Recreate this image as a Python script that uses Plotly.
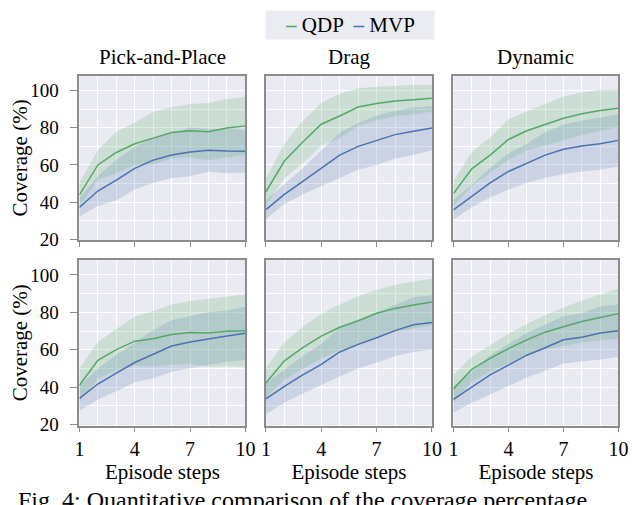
import plotly.graph_objects as go

steps = [1, 2, 3, 4, 5, 6, 7, 8, 9, 10]
tasks = ["Pick-and-Place", "Drag", "Dynamic"]
yticks = [20, 40, 60, 80, 100]
xticks = [1, 4, 7, 10]

# top row: mean and std of coverage (%)
qdp_pick_1 = [43.9, 60.0, 66.7, 71.4, 74.4, 77.4, 78.4, 77.9, 79.8, 81.0]
qdp_pick_1_std = [6.5, 7.9, 11.2, 11.4, 14.0, 13.8, 14.4, 15.4, 15.6, 15.5]
mvp_pick_1 = [37.2, 46.0, 51.8, 58.2, 62.6, 65.3, 67.0, 67.9, 67.5, 67.4]
mvp_pick_1_std = [4.9, 8.0, 10.8, 11.4, 12.2, 12.3, 13.1, 11.4, 11.9, 11.4]

qdp_drag_1 = [45.6, 62.1, 72.3, 81.9, 86.3, 91.1, 93.0, 94.4, 95.1, 95.8]
qdp_drag_1_std = [7.4, 9.3, 11.4, 11.4, 11.9, 10.1, 9.0, 8.2, 7.9, 7.2]
mvp_drag_1 = [36.0, 44.2, 51.2, 58.2, 65.3, 70.0, 73.2, 76.3, 78.1, 79.8]
mvp_drag_1_std = [5.0, 5.2, 7.0, 9.6, 12.0, 12.6, 13.2, 12.8, 12.8, 11.9]

qdp_dyn_1 = [44.6, 57.9, 65.3, 73.7, 78.4, 81.6, 85.1, 87.5, 89.3, 90.5]
qdp_dyn_1_std = [6.6, 9.1, 9.6, 10.9, 10.5, 11.2, 11.7, 11.4, 11.1, 10.2]
mvp_dyn_1 = [35.8, 43.3, 50.4, 56.5, 60.9, 65.3, 68.4, 70.2, 71.4, 73.2]
mvp_dyn_1_std = [5.3, 6.1, 7.9, 9.7, 10.5, 12.3, 13.3, 13.7, 14.0, 14.1]

# bottom row
qdp_pick_2 = [41.0, 54.4, 60.1, 64.6, 65.9, 68.1, 69.2, 69.0, 69.9, 70.2]
qdp_pick_2_std = [9.1, 9.7, 11.0, 13.2, 14.8, 16.1, 16.8, 18.2, 18.7, 19.3]
mvp_pick_2 = [34.0, 41.7, 47.5, 53.2, 57.6, 62.0, 64.1, 65.9, 67.3, 68.8]
mvp_pick_2_std = [6.7, 8.3, 9.7, 10.6, 12.8, 13.7, 14.0, 14.1, 13.7, 14.3]

qdp_drag_2 = [42.2, 54.1, 61.1, 67.3, 72.0, 75.5, 79.5, 82.1, 83.9, 85.5]
qdp_drag_2_std = [7.9, 10.0, 11.2, 12.0, 12.2, 13.1, 12.6, 12.6, 12.6, 12.4]
mvp_drag_2 = [33.8, 40.5, 46.6, 52.2, 58.8, 62.9, 66.4, 70.2, 73.4, 74.6]
mvp_drag_2_std = [8.2, 8.8, 10.0, 10.9, 13.1, 12.8, 13.3, 13.6, 14.6, 14.5]

qdp_dyn_2 = [39.1, 49.6, 55.4, 60.6, 65.3, 69.4, 72.3, 75.1, 77.2, 79.3]
qdp_dyn_2_std = [7.5, 6.6, 7.0, 7.9, 8.4, 9.2, 10.2, 11.2, 12.3, 13.3]
mvp_dyn_2 = [33.5, 40.1, 46.6, 51.8, 57.1, 61.1, 65.3, 66.7, 69.0, 70.2]
mvp_dyn_2_std = [7.0, 8.4, 10.5, 11.3, 11.9, 12.3, 12.6, 12.8, 14.2, 14.0]

panels = [
    (qdp_pick_1, qdp_pick_1_std, mvp_pick_1, mvp_pick_1_std),
    (qdp_drag_1, qdp_drag_1_std, mvp_drag_1, mvp_drag_1_std),
    (qdp_dyn_1, qdp_dyn_1_std, mvp_dyn_1, mvp_dyn_1_std),
    (qdp_pick_2, qdp_pick_2_std, mvp_pick_2, mvp_pick_2_std),
    (qdp_drag_2, qdp_drag_2_std, mvp_drag_2, mvp_drag_2_std),
    (qdp_dyn_2, qdp_dyn_2_std, mvp_dyn_2, mvp_dyn_2_std),
]

green = "#55a868"
blue = "#4c72b0"
green_fill = "rgba(85,168,104,0.2)"
blue_fill = "rgba(76,114,176,0.2)"
serif = "Times New Roman"

W, H = 640, 505
col_px = [(68, 238), (259, 429), (451, 620)]
row_px = [(69, 237), (257, 426)]

fig = go.Figure()

for i, (qdp, qdp_std, mvp, mvp_std) in enumerate(panels):
    n = "" if i == 0 else str(i + 1)
    xa, ya = "x" + n, "y" + n
    for mean, std, fill_c in [(mvp, mvp_std, blue_fill), (qdp, qdp_std, green_fill)]:
        lower = [m - s for m, s in zip(mean, std)]
        upper = [m + s for m, s in zip(mean, std)]
        fig.add_trace(go.Scatter(x=steps, y=lower, mode="lines", line=dict(width=0),
                                 xaxis=xa, yaxis=ya, showlegend=False, hoverinfo="skip"))
        fig.add_trace(go.Scatter(x=steps, y=upper, mode="lines", line=dict(width=0),
                                 fill="tonexty", fillcolor=fill_c,
                                 xaxis=xa, yaxis=ya, showlegend=False, hoverinfo="skip"))
    fig.add_trace(go.Scatter(x=steps, y=mvp, mode="lines", name="MVP",
                             line=dict(color=blue, width=1.5),
                             xaxis=xa, yaxis=ya, showlegend=False))
    fig.add_trace(go.Scatter(x=steps, y=qdp, mode="lines", name="QDP",
                             line=dict(color=green, width=1.5),
                             xaxis=xa, yaxis=ya, showlegend=False))

layout = {}
for i in range(6):
    r, c = divmod(i, 3)
    n = "" if i == 0 else str(i + 1)
    x0, x1 = col_px[c]
    top, bot = row_px[r]
    layout["xaxis" + n] = dict(
        domain=[x0 / W, x1 / W], anchor="y" + n, range=[1, 10],
        tickvals=xticks, showticklabels=(r == 1),
        ticks="outside", ticklen=5, tickcolor="#8c8c8c", tickwidth=1.2,
        showline=True, mirror=True, linecolor="#8c8c8c", linewidth=1.5,
        showgrid=True, gridcolor="white", gridwidth=1,
        minor=dict(tickvals=[2, 3, 5, 6, 8, 9], showgrid=True, gridcolor="white", gridwidth=1),
        zeroline=False, tickfont=dict(family=serif, size=20, color="black"),
        title=dict(text="Episode steps" if r == 1 else "", standoff=0,
                   font=dict(family=serif, size=21, color="black")),
    )
    layout["yaxis" + n] = dict(
        domain=[1 - bot / H, 1 - top / H], anchor="x" + n, range=[19.5, 108],
        tickvals=yticks, showticklabels=(c == 0),
        ticks="outside" if c == 0 else "", ticklen=8, tickcolor="#8c8c8c", tickwidth=1.2,
        ticklabelstandoff=7,
        showline=True, mirror=True, linecolor="#8c8c8c", linewidth=1.5,
        showgrid=True, gridcolor="white", gridwidth=1,
        minor=dict(tickvals=[30, 50, 70, 90], showgrid=True, gridcolor="white", gridwidth=1),
        zeroline=False, tickfont=dict(family=serif, size=19, color="black"),
        title=dict(text="Coverage (%)" if c == 0 else "", standoff=4,
                   font=dict(family=serif, size=21, color="black")),
    )

fig.update_layout(
    width=W, height=H,
    margin=dict(l=0, r=0, t=0, b=0),
    paper_bgcolor="white", plot_bgcolor="#eaeaf2",
    font=dict(family=serif, color="black"),
    showlegend=False,
    **layout,
)

for c, name in enumerate(tasks):
    x0, x1 = col_px[c]
    fig.add_annotation(text=name, x=(x0 + x1) / 2 / W, y=1 - 50 / H,
                       xref="paper", yref="paper", xanchor="center", yanchor="middle",
                       showarrow=False, font=dict(family=serif, size=21, color="black"))

legend_text = (f'<span style="color:{green}"><b>–</b></span> QDP  '
               f'<span style="color:{blue}"><b>–</b></span> MVP')
fig.add_annotation(text=legend_text, x=345 / W, y=1 - 17 / H, xref="paper", yref="paper",
                   xanchor="center", yanchor="middle", showarrow=False,
                   width=166, height=26, bgcolor="#ebebf2",
                   font=dict(family=serif, size=21, color="black"))

fig.add_annotation(text="Fig. 4: Quantitative comparison of the coverage percentage",
                   x=3 / W, y=1 - 487 / H, xref="paper", yref="paper",
                   xanchor="left", yanchor="top", showarrow=False,
                   font=dict(family=serif, size=24, color="black"))

fig.write_html("out.html")
